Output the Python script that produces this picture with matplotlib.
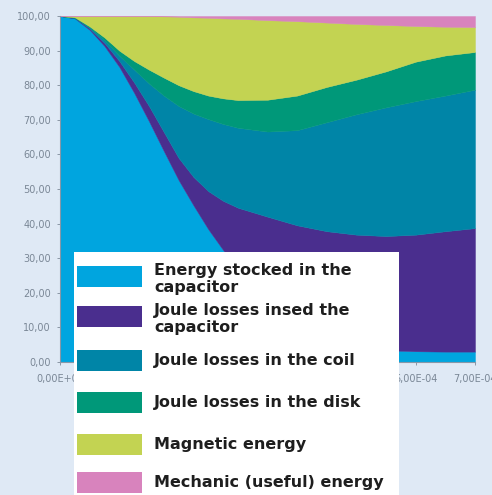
import matplotlib
matplotlib.use("Agg")
import matplotlib.pyplot as plt
from matplotlib.patches import Rectangle
from matplotlib.ticker import FuncFormatter

# Time (s) and energy shares (%) of each term, stacked from the bottom up
time_s = [0.0, 0.25e-4, 0.5e-4, 0.75e-4, 1.0e-4, 1.25e-4, 1.5e-4, 1.75e-4,
          2.0e-4, 2.25e-4, 2.5e-4, 2.75e-4, 3.0e-4, 3.5e-4, 4.0e-4, 4.5e-4,
          5.0e-4, 5.5e-4, 6.0e-4, 6.5e-4, 7.0e-4]

capacitor_energy = [100, 99.3, 96, 91.3, 85.3, 77.8, 69.6, 61, 52.6, 45.3, 38.4,
                    32.4, 26.5, 16.5, 9.5, 6, 4.2, 3.4, 3.1, 3, 3]
capacitor_losses = [0, 0.1, 0.4, 0.9, 1.7, 3.0, 4.4, 5.5, 6.4, 8.2, 11.0,
                    14.2, 18.1, 25.5, 30.0, 31.8, 32.6, 33.0, 33.7, 34.8, 35.7]
coil_losses = [0, 0.1, 0.3, 0.8, 1.5, 3.7, 6.5, 10.5, 15.0, 18.3, 20.8,
               22.2, 23.1, 24.6, 27.5, 31.5, 34.8, 37.2, 38.6, 39.2, 40.0]
disk_losses = [0, 0.1, 0.3, 0.8, 1.5, 2.5, 4.0, 5.2, 6.0, 6.5, 6.8,
               7.4, 8.0, 9.2, 10.0, 10.2, 10.0, 10.4, 11.4, 11.6, 10.9]
magnetic_energy = [0, 0.4, 3.0, 6.2, 10.0, 13.0, 15.5, 17.7, 19.8, 21.3, 22.5,
                   23.1, 23.5, 23.0, 21.5, 18.6, 16.1, 13.4, 10.3, 8.3, 7.2]
mechanic_energy = [0, 0, 0, 0, 0, 0, 0, 0.1, 0.2, 0.4, 0.5,
                   0.7, 0.8, 1.2, 1.5, 1.9, 2.3, 2.6, 2.9, 3.1, 3.2]

series_labels = [
    "Energy stocked in the\ncapacitor",
    "Joule losses insed the\ncapacitor",
    "Joule losses in the coil",
    "Joule losses in the disk",
    "Magnetic energy",
    "Mechanic (useful) energy",
]
series_colors = ["#00a5df", "#4a2e8e", "#0085a7", "#009879", "#c3d352", "#d883bd"]

y_ticks = [0, 10, 20, 30, 40, 50, 60, 70, 80, 90, 100]
x_ticks = [0.0, 1e-4, 2e-4, 3e-4, 4e-4, 5e-4, 6e-4, 7e-4]

bg = "#dfe9f5"
fig = plt.figure(figsize=(4.92, 4.95), dpi=100, facecolor=bg)
W, H = 492, 495
ax = fig.add_axes([60 / W, 1 - 362 / H, 415 / W, 346 / H], facecolor=bg)

polys = ax.stackplot(
    time_s,
    capacitor_energy, capacitor_losses, coil_losses,
    disk_losses, magnetic_energy, mechanic_energy,
    colors=series_colors, linewidth=0.3, edgecolor="face", antialiased=True,
)

ax.set_xlim(0, 7e-4)
ax.set_ylim(0, 100)
ax.set_yticks(y_ticks)
ax.set_xticks(x_ticks)
ax.yaxis.set_major_formatter(FuncFormatter(lambda v, p: f"{v:.2f}".replace(".", ",")))
ax.xaxis.set_major_formatter(FuncFormatter(lambda v, p: f"{v:.2E}".replace(".", ",")))

tick_col = "#7d8a98"
for side in ("top", "right"):
    ax.spines[side].set_visible(False)
for side in ("left", "bottom"):
    ax.spines[side].set_color("#8797a8")
    ax.spines[side].set_linewidth(0.8)
ax.tick_params(axis="both", colors=tick_col, labelsize=7, length=2.5, width=0.6)
ax.tick_params(axis="y", pad=4)
ax.tick_params(axis="x", pad=6)
for lab in ax.get_xticklabels() + ax.get_yticklabels():
    lab.set_color("#7a8796")

# Legend panel laid out in figure pixel coordinates
def fx(px):
    return px / W

def fy(py):
    return 1 - py / H

fig.patches.append(Rectangle((fx(74), fy(497)), fx(399) - fx(74), fy(252) - fy(497),
                             transform=fig.transFigure, facecolor="white",
                             edgecolor="none", zorder=5))

row_centers = [276, 316, 360, 402, 444, 482]
text_offsets = [3, 3, 1, 1, 1, 1]
for poly, label, yc, dy in zip(polys, series_labels, row_centers, text_offsets):
    fig.patches.append(Rectangle((fx(77), fy(yc + 10.5)), fx(142) - fx(77),
                                 fy(yc - 10.5) - fy(yc + 10.5),
                                 transform=fig.transFigure,
                                 facecolor=poly.get_facecolor()[0],
                                 edgecolor="none", zorder=6))
    fig.text(fx(154), fy(yc + dy), label, ha="left", va="center",
             fontsize=11.5, fontweight="bold", color="#1e1e1e",
             family="DejaVu Sans", linespacing=1.15, zorder=7)

fig.savefig("out.png", dpi=100, facecolor=bg)
